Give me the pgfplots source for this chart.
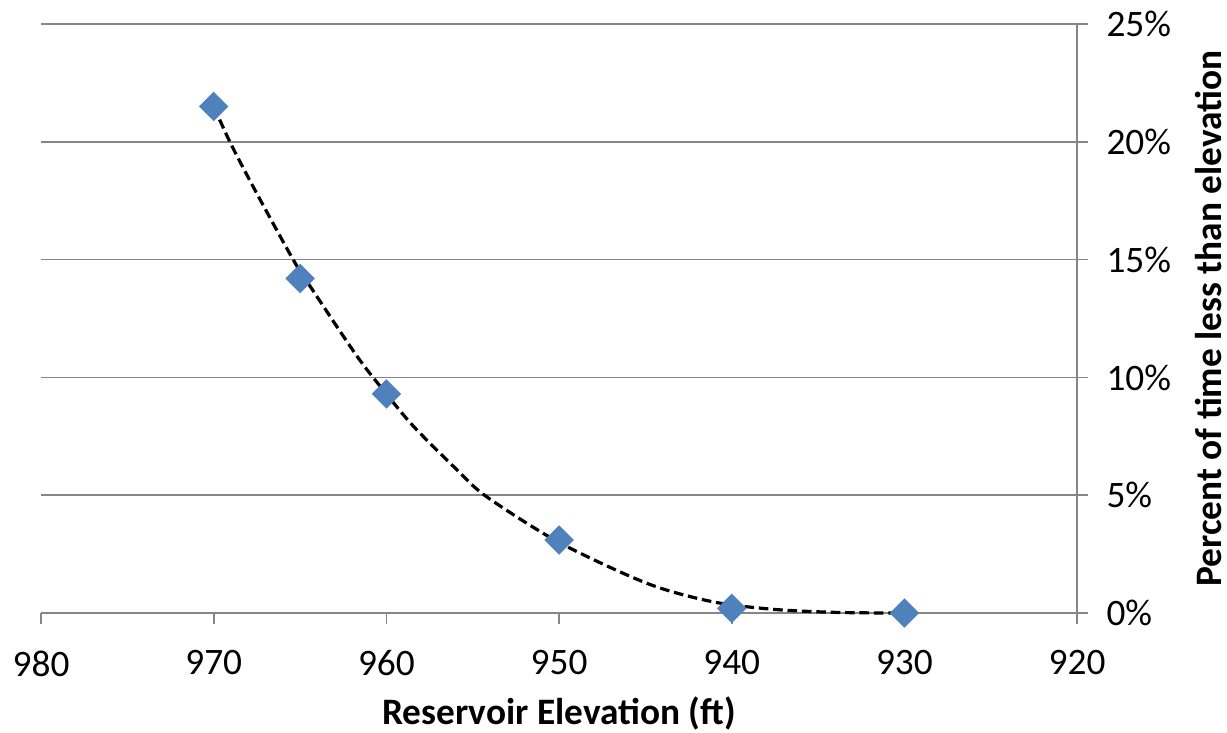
\documentclass[border=0pt]{standalone}
\usepackage{fontspec}
\setmainfont{Carlito}
\usepackage{pgfplots}
\pgfplotsset{compat=1.18}
\definecolor{markblue}{HTML}{4F81BD}
\definecolor{gridgray}{HTML}{868686}

\begin{document}
\begin{tikzpicture}
\begin{axis}[
    name=ax,
    scale only axis,
    width=388.5pt, height=220.9pt,
    x dir=reverse,
    xmin=920, xmax=980,
    ymin=0, ymax=25,
    xtick={920,930,...,980},
    ytick={0,5,...,25},
    axis x line*=bottom,
    axis y line*=right,
    ymajorgrids,
    grid style={gridgray, line width=0.6pt},
    axis line style={gridgray, line width=0.6pt},
    tick style={gridgray, line width=0.6pt},
    tick align=outside,
    major tick length=4pt,
    /pgf/number format/assume math mode=true,
    ticklabel style={font=\fontsize{14}{16}\selectfont},
    xticklabel style={yshift=-6.5pt},
    yticklabel style={xshift=3.5pt},
    yticklabel={\pgfmathprintnumber{\tick}\%},
    clip=false,
]
% observed points
\addplot[only marks, mark=square*, mark size=3.7pt,
    mark options={rotate=45, fill=markblue, draw=markblue}]
    coordinates {(970,21.5) (965,14.2) (960,9.3) (950,3.1) (940,0.2) (930,0)};
% trendline
\addplot[black, line width=1.2pt, dash pattern=on 3.6pt off 1.8pt, smooth]
    coordinates {(970,21.5) (969,19.9) (967.5,17.8) (965.4,15.0) (964.4,13.85)
    (961.7,10.9) (960,9.3) (958.4,7.9) (955.9,6.07) (954.2,4.94) (950,3.0)
    (944.9,1.26) (941.1,0.48) (937.6,0.16) (934,0.03) (930,0)};
\end{axis}
\node[rotate=90, font=\fontsize{14}{16}\selectfont\bfseries]
    at ([xshift=49.1pt]ax.east) {Percent of time less than elevation};
\node[font=\fontsize{14}{16}\selectfont\bfseries]
    at ([yshift=-37.6pt]ax.south) {Reservoir Elevation (ft)};
\pgfresetboundingbox
\useasboundingbox ([xshift=-15.4pt,yshift=-44.6pt]ax.south west) rectangle
    ([xshift=444.7pt,yshift=229.9pt]ax.south west);
\end{tikzpicture}
\end{document}
